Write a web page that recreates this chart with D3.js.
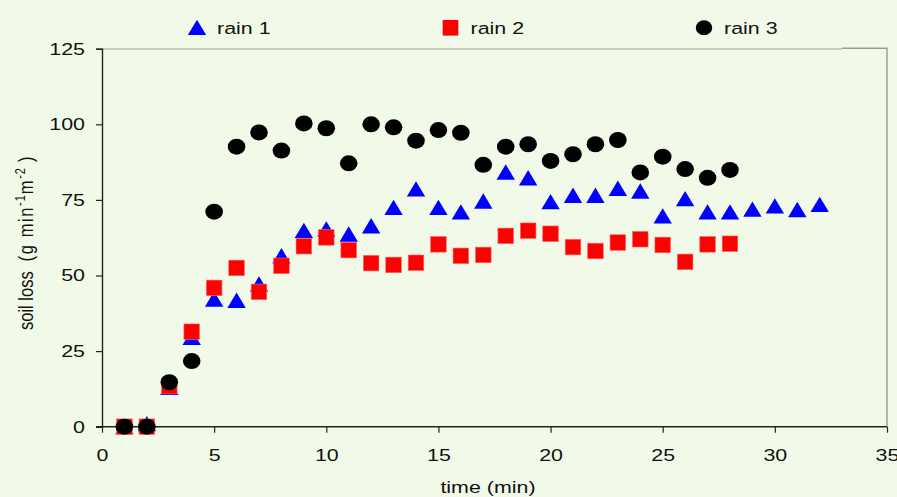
<!DOCTYPE html>
<html>
<head>
<meta charset="utf-8">
<script src="https://cdn.jsdelivr.net/npm/d3@7"></script>
<style>
  body { margin: 0; background: #f1fae8; }
  svg { display: block; }
  text { font-family: "Liberation Sans", Arial, sans-serif; fill: #111; }
</style>
</head>
<body>
<div id="vis"></div>
<script>
// values
let seriesNames = ['rain 1', 'rain 2', 'rain 3']
let time1 = d3.range(1, 33)
let rain1 = [0, 1, 13, 29.5, 42.2, 41.8, 47.2, 56.5, 64.9, 65.4, 63.7, 66.4, 72.5, 78.6, 72.5, 71,
  74.6, 84.2, 82.3, 74.4, 76.5, 76.5, 78.8, 77.9, 69.7, 75.4, 71, 71, 71.9, 73, 71.8, 73.5]
let time2 = d3.range(1, 29)
let rain2 = [0, 0, 13.4, 31.4, 45.9, 52.5, 44.6, 53.2, 59.7, 62.6, 58.4, 54.1, 53.5, 54.2, 60.3, 56.5,
  56.8, 63.1, 64.8, 63.8, 59.4, 58.1, 60.9, 62, 60.1, 54.5, 60.3, 60.5]
let time3 = d3.range(1, 29)
let rain3 = [0, 0, 14.7, 21.7, 71.1, 92.6, 97.3, 91.3, 100.3, 98.7, 87.1, 100, 99, 94.6, 98.1, 97.2,
  86.6, 92.6, 93.4, 87.9, 90.1, 93.4, 94.8, 84.1, 89.3, 85.2, 82.3, 84.9]
let xTicks = [0, 5, 10, 15, 20, 25, 30, 35]
let yTicks = [0, 25, 50, 75, 100, 125]

let W = 897, H = 497
let margin = { top: 48.7, left: 102, right: 10, bottom: 70.3 }
let sx = 1.26 // the original picture is stretched sideways

let svg = d3.select('#vis').append('svg')
  .attr('width', W).attr('height', H)

svg.append('rect').attr('width', W).attr('height', H).attr('fill', '#f1fae8')

let x = d3.scaleLinear().domain([0, 35]).range([margin.left, W - margin.right])
let y = d3.scaleLinear().domain([0, 125]).range([H - margin.bottom, margin.top])

// frame: top and right in grey
svg.append('line')
  .attr('x1', x(0)).attr('x2', x(33)).attr('y1', y(125) + 0.3).attr('y2', y(125) + 0.3)
  .attr('stroke', '#b8bcb0').attr('stroke-width', 1.3)
svg.append('line')
  .attr('x1', x(33)).attr('x2', x(35)).attr('y1', y(125) - 0.4).attr('y2', y(125) - 0.4)
  .attr('stroke', '#999').attr('stroke-width', 1.4)
svg.append('line')
  .attr('x1', x(35)).attr('x2', x(35)).attr('y1', y(125) - 1).attr('y2', y(0))
  .attr('stroke', '#999').attr('stroke-width', 1.4)

// axes
let xAxis = svg.append('g')
  .attr('transform', `translate(0,${y(0)})`)
  .call(d3.axisBottom(x).tickValues(xTicks).tickSizeOuter(0).tickSize(6))
xAxis.select('.domain').attr('stroke', '#222').attr('stroke-width', 1.4)
  .attr('d', `M${x(0) - 6},0H${x(35)}`)
xAxis.selectAll('.tick line').attr('stroke', '#222').attr('stroke-width', 1.2)
xAxis.selectAll('.tick text')
  .attr('y', 34.5).attr('dy', 0)
  .attr('transform', `scale(${sx},1)`)
  .style('font-size', '17px')
  .style('font-family', '"Liberation Sans", Arial, sans-serif').attr('fill', '#111')

let yAxis = svg.append('g')
  .attr('transform', `translate(${x(0)},0)`)
  .call(d3.axisLeft(y).tickValues(yTicks).tickSizeOuter(0).tickSize(6))
yAxis.select('.domain').attr('stroke', '#222').attr('stroke-width', 1.4)
yAxis.selectAll('.tick line').attr('stroke', '#222').attr('stroke-width', 1.2)
yAxis.selectAll('.tick text')
  .attr('x', -17 / sx)
  .attr('transform', `scale(${sx},1)`)
  .style('font-size', '17px')
  .style('font-family', '"Liberation Sans", Arial, sans-serif').attr('fill', '#111')

// markers
let triPath = 'M0,-7.8L9.2,7.6L-9.2,7.6Z'
let sq = 15.6

svg.append('g').selectAll('path')
  .data(time1.map((t, i) => [t, rain1[i]]))
  .join('path')
  .attr('d', triPath)
  .attr('transform', d => `translate(${x(d[0])},${y(d[1])})`)
  .attr('fill', '#0000ff')

svg.append('g').selectAll('rect')
  .data(time2.map((t, i) => [t, rain2[i]]))
  .join('rect')
  .attr('x', d => x(d[0]) - sq / 2).attr('y', d => y(d[1]) - sq / 2)
  .attr('width', sq).attr('height', sq)
  .attr('fill', '#ff0000').attr('stroke', '#ff6a6a').attr('stroke-width', 0.6)

svg.append('g').selectAll('ellipse')
  .data(time3.map((t, i) => [t, rain3[i]]))
  .join('ellipse')
  .attr('cx', d => x(d[0])).attr('cy', d => y(d[1]))
  .attr('rx', 8.8).attr('ry', 8)
  .attr('fill', '#000')

// legend
let legX = [197, 450.5, 704]
let leg = svg.append('g')
leg.append('path').attr('d', triPath).attr('transform', `translate(${legX[0]},27.5)`).attr('fill', '#0000ff')
leg.append('rect').attr('x', legX[1] - sq / 2).attr('y', 27.8 - sq / 2).attr('width', sq).attr('height', sq)
  .attr('fill', '#ff0000')
leg.append('ellipse').attr('cx', legX[2]).attr('cy', 27.8).attr('rx', 8.2).attr('ry', 7.5).attr('fill', '#000')
seriesNames.forEach((n, i) => {
  leg.append('text')
    .attr('transform', `translate(${legX[i] + 20},34.2) scale(${sx},1)`)
    .style('font-size', '17px')
    .text(n)
})

// axis titles
svg.append('text')
  .attr('transform', `translate(488,493) scale(${sx},1)`)
  .attr('text-anchor', 'middle')
  .style('font-size', '17px')
  .text('time (min)')

let yt = svg.append('text')
  .attr('transform', `translate(33,330) rotate(-90) scale(1,${sx})`)
  .style('font-size', '16.5px')
yt.append('tspan').text('soil loss')
yt.append('tspan').attr('dx', 10).style('letter-spacing', '1.6px').text('(g min')
yt.append('tspan').attr('dy', -6).style('font-size', '11px').style('letter-spacing', '1px').text('-1')
yt.append('tspan').attr('dy', 6).style('letter-spacing', '1.6px').text('m')
yt.append('tspan').attr('dy', -6).style('font-size', '11px').style('letter-spacing', '1px').text('-2')
yt.append('tspan').attr('dy', 6).attr('dx', 5).text(')')
</script>
</body>
</html>
